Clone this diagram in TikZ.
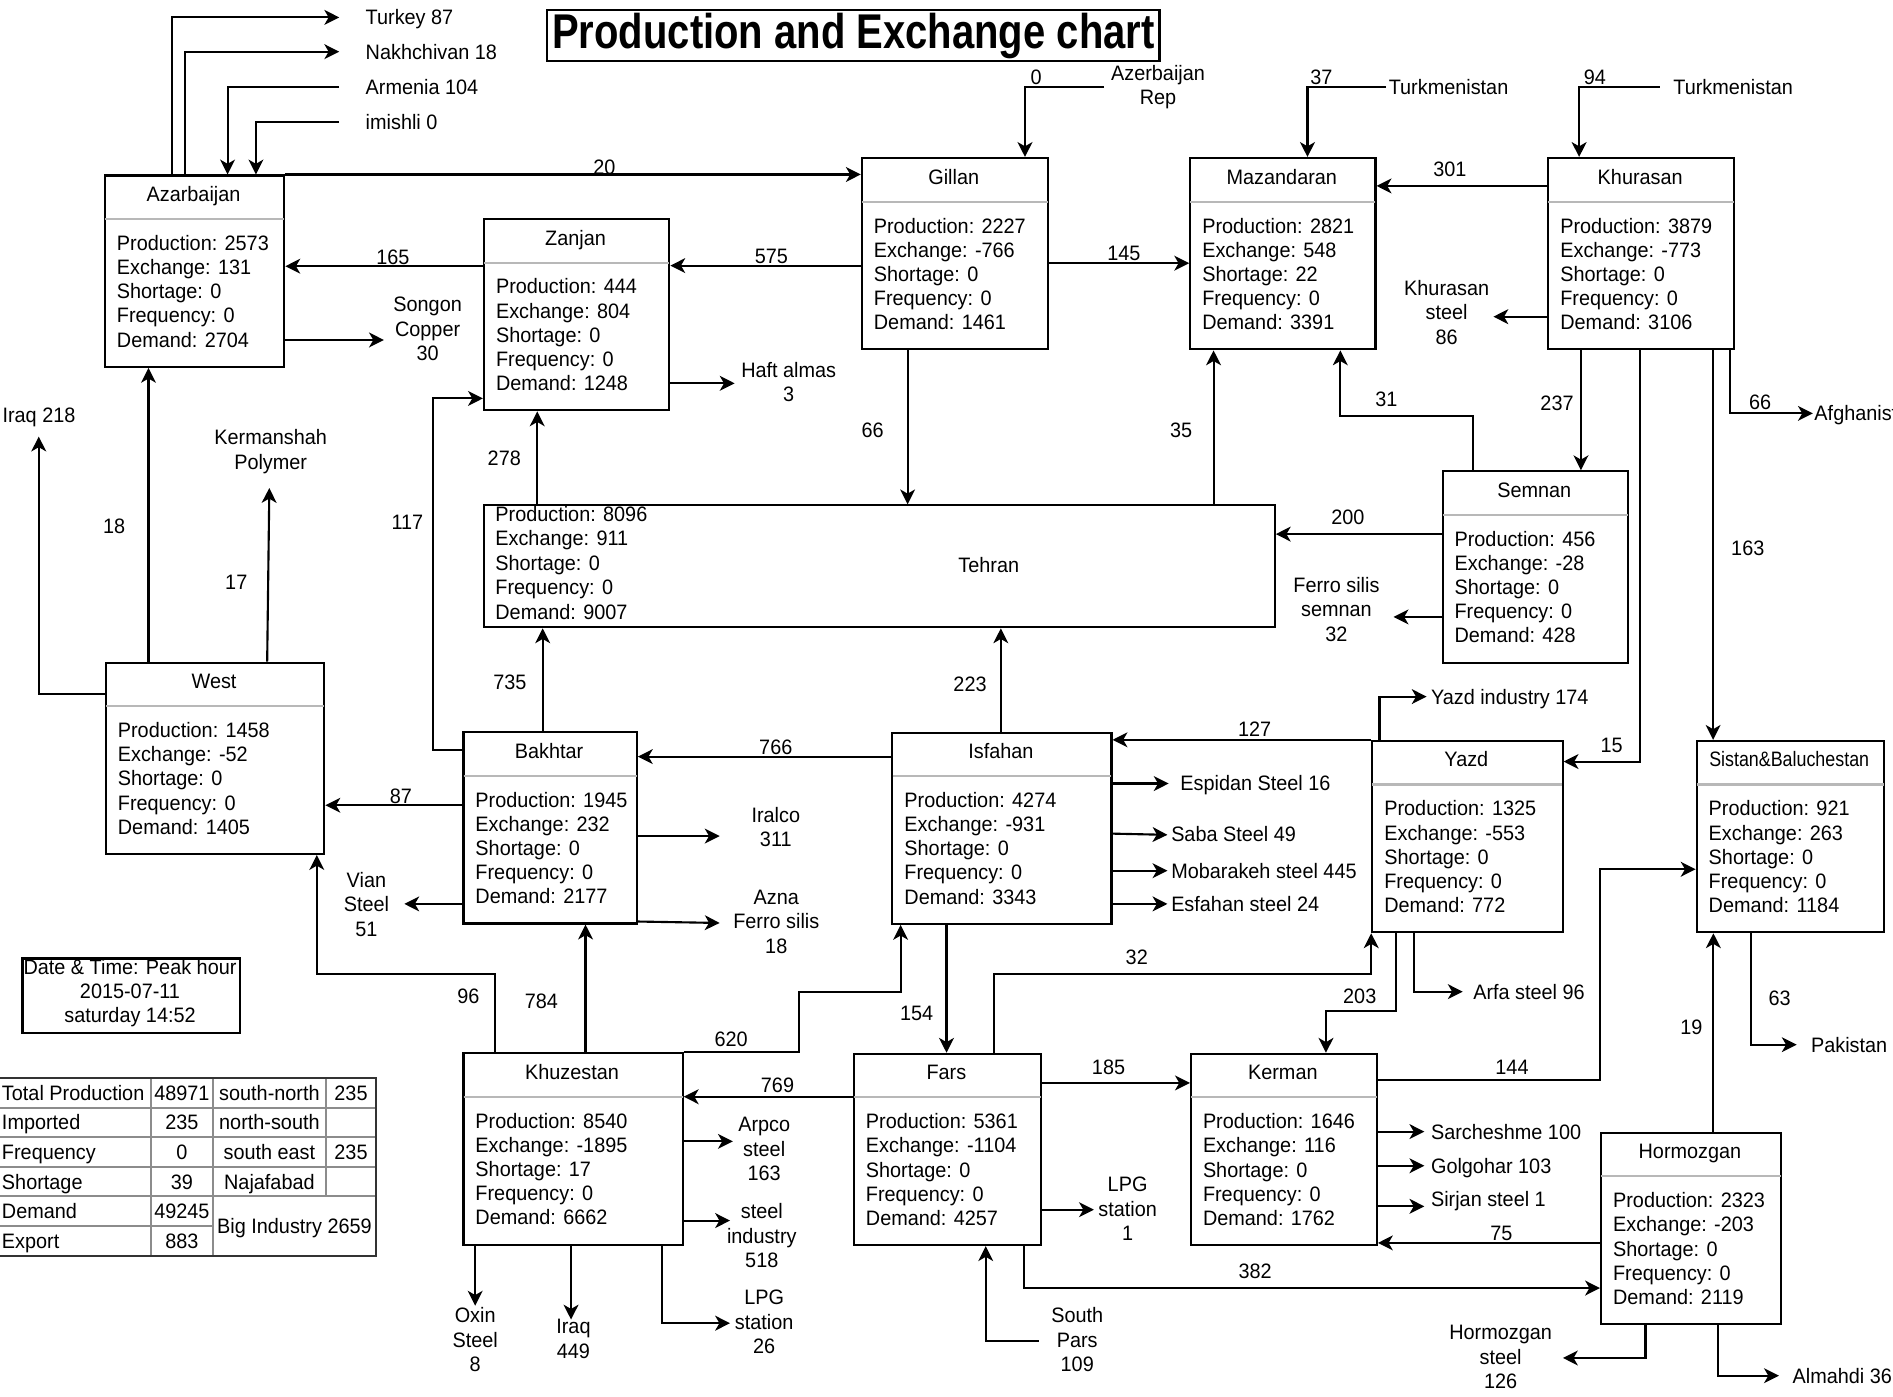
\documentclass[tikz,border=0pt]{standalone}
\usepackage{fontspec}
\usepackage{graphicx}
\setmainfont{Liberation Sans}[FakeStretch=0.95]
\newfontfamily\ttlfont{Liberation Sans}[FakeStretch=0.82]
\usetikzlibrary{arrows.meta,calc}
\newcommand\fs{\fontsize{9.85pt}{11.5pt}\selectfont}
\newcommand\regbox[9]{%
  \node[box, minimum width=#4*0.02cm] (#1) at (#2,#3) {};
  \node[ttl] (#1-t) at ($(#1.north west)+(#4/2,22.5)$) {#5};
  \draw[sepl] ($(#1.north west)+(1,37)$) -- ($(#1.north east)+(-1,37)$);
  \node[txt] (#1-p) at ($(#1.north west)+(10.5,63)$) {Production: #6};
  \node[txt] (#1-e) at ($(#1.north west)+(10.5,83)$) {Exchange: #7};
  \node[txt] (#1-s) at ($(#1.north west)+(10.5,103)$) {Shortage: #8};
  \node[txt] (#1-f) at ($(#1.north west)+(10.5,123)$) {Frequency: 0};
  \node[txt] (#1-d) at ($(#1.north west)+(10.5,143)$) {Demand: #9};
}
\begin{document}
\begin{tikzpicture}[x=0.02cm,y=-0.02cm,
  box/.style={draw=black, line width=1pt, rectangle, inner sep=0pt, anchor=north west, minimum height=3.17cm},
  sepl/.style={draw=black!28, line width=1pt},
  txt/.style={font=\fs, inner sep=0pt, anchor=base west},
  ttl/.style={font=\fs, inner sep=0pt, anchor=base},
  lab/.style={font=\fs, inner sep=0pt, text height=7pt, text depth=0pt},
  mlab/.style={font=\fs, inner sep=0pt, align=center, anchor=center},
  num/.style={font=\fs, inner sep=0pt, text height=7pt, text depth=0pt, anchor=center},
  arr/.style={line width=1pt, draw=black, -{Stealth[length=7pt,width=7pt,inset=2pt]}},
  tbo/.style={draw=black!80, line width=1pt},
  tbi/.style={draw=black!45, line width=1pt},
]
\useasboundingbox (0,0) rectangle (1568,1157);
\fill[white] (0,0) rectangle (1568,1157);

% title
\node[draw=black, line width=1pt, inner sep=0pt, anchor=north west,
  minimum width=507*0.02cm, minimum height=42*0.02cm,
  font=\ttlfont\bfseries\fontsize{23pt}{27pt}\selectfont] (title) at (452.5,7.7) {Production and Exchange chart};

% region boxes
\regbox{az}{86}{144.5}{148.6}{Azarbaijan}{2573}{131}{0}{2704}
\regbox{zan}{400}{180.5}{153.5}{Zanjan}{444}{804}{0}{1248}
\regbox{gil}{713}{130}{154}{Gillan}{2227}{-766}{0}{1461}
\regbox{maz}{985}{130}{153.5}{Mazandaran}{2821}{548}{22}{3391}
\regbox{khu}{1281.6}{130}{154}{Khurasan}{3879}{-773}{0}{3106}
\regbox{sem}{1194}{389.5}{153.7}{Semnan}{456}{-28}{0}{428}
\regbox{west}{86.8}{548}{181}{West}{1458}{-52}{0}{1405}
\regbox{bak}{383}{605.6}{143.6}{Bakhtar}{1945}{232}{0}{2177}
\regbox{isf}{738.3}{605.9}{181.5}{Isfahan}{4274}{-931}{0}{3343}
\regbox{yaz}{1135.8}{612.8}{157.6}{Yazd}{1325}{-553}{0}{772}
\regbox{sis}{1404.5}{612.8}{155}{\scalebox{0.9}[1]{Sistan\&Baluchestan}}{921}{263}{0}{1184}
\regbox{khz}{383}{871.6}{181.6}{Khuzestan}{8540}{-1895}{17}{6662}
\regbox{fars}{706.4}{872}{155}{Fars}{5361}{-1104}{0}{4257}
\regbox{ker}{985.6}{872}{154}{Kerman}{1646}{116}{0}{1762}
\regbox{hor}{1325.3}{937.4}{149}{Hormozgan}{2323}{-203}{0}{2119}

% Tehran
\node[box, minimum width=655*0.02cm, minimum height=101*0.02cm] (teh) at (400,417.7) {};
\node[txt] (teh-p) at (410,431.7) {Production: 8096};
\node[txt] (teh-e) at (410,452) {Exchange: 911};
\node[txt] (teh-s) at (410,472.3) {Shortage: 0};
\node[txt] (teh-f) at (410,492.6) {Frequency: 0};
\node[txt] (teh-d) at (410,513) {Demand: 9007};
\node[lab] (teh-t) at (819,468.2) {Tehran};

% date box
\node[draw=black, line width=1pt, inner sep=0pt, anchor=north west,
  minimum width=180*0.02cm, minimum height=62*0.02cm] (datebox) at (17.8,793) {};
\node[mlab] (datetxt) at (107.7,822.6) {Date \& Time: Peak hour\\2015-07-11\\saturday 14:52};

% summary table
\draw[tbi] (0,917.5) -- (311.5,917.5);
\draw[tbi] (0,942) -- (311.5,942);
\draw[tbi] (0,966.5) -- (311.5,966.5);
\draw[tbi] (0,991) -- (311.5,991);
\draw[tbi] (0,1015.5) -- (176.3,1015.5);
\draw[tbi] (125,893) -- (125,1040);
\draw[tbi] (176.3,893) -- (176.3,1040);
\draw[tbi] (270,893) -- (270,991);
\draw[tbo] (-0.5,893) rectangle (311.5,1040);
\node[lab, anchor=west] (c11) at (1.3,905.25) {Total Production};
\node[lab, anchor=west] (c21) at (1.3,929.75) {Imported};
\node[lab, anchor=west] (c31) at (1.3,954.25) {Frequency};
\node[lab, anchor=west] (c41) at (1.3,978.75) {Shortage};
\node[lab, anchor=west] (c51) at (1.3,1003.25) {Demand};
\node[lab, anchor=west] (c61) at (1.3,1027.75) {Export};
\node[num] (c12) at (150.65,905.25) {48971};
\node[num] (c22) at (150.65,929.75) {235};
\node[num] (c32) at (150.65,954.25) {0};
\node[num] (c42) at (150.65,978.75) {39};
\node[num] (c52) at (150.65,1003.25) {49245};
\node[num] (c62) at (150.65,1027.75) {883};
\node[num] (c13) at (223.15,905.25) {south-north};
\node[num] (c23) at (223.15,929.75) {north-south};
\node[num] (c33) at (223.15,954.25) {south east};
\node[num] (c43) at (223.15,978.75) {Najafabad};
\node[num] (c14) at (290.75,905.25) {235};
\node[num] (c34) at (290.75,954.25) {235};
\node[num] (c53) at (243.9,1015.5) {Big Industry 2659};

% ---------- labels ----------
\node[lab, anchor=west] (turkey) at (302.6,14.4) {Turkey 87};
\node[lab, anchor=west] (nakh) at (302.6,42.8) {Nakhchivan 18};
\node[lab, anchor=west] (armenia) at (302.6,72.3) {Armenia 104};
\node[lab, anchor=west] (imishli) at (302.6,101.3) {imishli 0};
\node[mlab] (songon) at (354.2,272.4) {Songon\\Copper\\30};
\node[mlab] (haft) at (653.3,316.2) {Haft almas\\3};
\node[mlab] (azrep) at (959.2,72) {Azerbaijan\\Rep};
\node[lab, anchor=west] (turk1) at (1150,72.3) {Turkmenistan};
\node[lab, anchor=west] (turk2) at (1385.7,72.3) {Turkmenistan};
\node[mlab] (khsteel) at (1198.3,258.6) {Khurasan\\steel\\86};
\node[lab, anchor=west] (afgh) at (1502.6,342.4) {Afghanistan};
\node[mlab] (ferro) at (1107,504.7) {Ferro silis\\semnan\\32};
\node[lab] (iraq1) at (32.3,343.7) {Iraq 218};
\node[mlab] (kerm) at (224.2,374.2) {Kermanshah\\Polymer};
\node[mlab] (iralco) at (642.6,684.9) {Iralco\\311};
\node[mlab] (vian) at (303.5,749) {Vian\\Steel\\51};
\node[mlab] (azna) at (643,763.3) {Azna\\Ferro silis\\18};
\node[lab, anchor=west] (espidan) at (977.4,649) {Espidan Steel 16};
\node[lab, anchor=west] (saba) at (969.8,690.6) {Saba Steel 49};
\node[lab, anchor=west] (mob) at (969.8,721.2) {Mobarakeh steel 445};
\node[lab, anchor=west] (esf) at (969.8,748.7) {Esfahan steel 24};
\node[lab, anchor=west] (yazdind) at (1185,577) {Yazd industry 174};
\node[lab, anchor=west] (arfa) at (1220,821.4) {Arfa steel 96};
\node[lab, anchor=west] (sarch) at (1185,937.3) {Sarcheshme 100};
\node[lab, anchor=west] (golg) at (1185,965.6) {Golgohar 103};
\node[lab, anchor=west] (sirjan) at (1185,993) {Sirjan steel 1};
\node[mlab] (lpg1) at (934,1001.4) {LPG\\station\\1};
\node[mlab] (spars) at (892.3,1109.8) {South\\Pars\\109};
\node[lab, anchor=west] (pak) at (1499.8,865.3) {Pakistan};
\node[mlab] (horsteel) at (1243,1124) {Hormozgan\\steel\\126};
\node[lab, anchor=west] (almahdi) at (1484.5,1139.5) {Almahdi 36};
\node[mlab] (arpco) at (633,951.7) {Arpco\\steel\\163};
\node[mlab] (steelind) at (631,1023.5) {steel\\industry\\518};
\node[mlab] (lpg2) at (633,1095) {LPG\\station\\26};
\node[mlab] (oxin) at (393.6,1109.7) {Oxin\\Steel\\8};
\node[mlab] (iraq2) at (475,1109) {Iraq\\449};

% ---------- numbers on connectors ----------
\node[num] (v20) at (500.6,138.6) {20};
\node[num] (v165) at (325.5,212.6) {165};
\node[num] (v575) at (639,212) {575};
\node[num] (v145) at (931,209.8) {145};
\node[num] (v301) at (1201,140) {301};
\node[num] (v0) at (858.2,63.5) {0};
\node[num] (v37) at (1094.6,64) {37};
\node[num] (v94) at (1321,64) {94};
\node[num] (v66a) at (1458,332.7) {66};
\node[num] (v237) at (1289.7,334) {237};
\node[num] (v31) at (1148.3,330.5) {31};
\node[num] (v163) at (1447.7,454) {163};
\node[num] (v15) at (1335,616.8) {15};
\node[num] (v200) at (1116.4,428.3) {200};
\node[num] (v66b) at (722.8,356.5) {66};
\node[num] (v35) at (978.4,356.5) {35};
\node[num] (v278) at (417.7,379.8) {278};
\node[num] (v117) at (337.4,432.3) {117};
\node[num] (v735) at (422.4,565) {735};
\node[num] (v223) at (803.5,566.9) {223};
\node[num] (v766) at (642.6,618.8) {766};
\node[num] (v87) at (332,659) {87};
\node[num] (v18) at (94.6,436) {18};
\node[num] (v17) at (195.7,482.2) {17};
\node[num] (v96) at (388,825) {96};
\node[num] (v784) at (448.5,829) {784};
\node[num] (v620) at (605.6,861) {620};
\node[num] (v769) at (644,898.5) {769};
\node[num] (v154) at (759.2,839.3) {154};
\node[num] (v127) at (1039.3,604.2) {127};
\node[num] (v32) at (941.6,792.5) {32};
\node[num] (v203) at (1126.3,825.3) {203};
\node[num] (v144) at (1252.4,883.6) {144};
\node[num] (v185) at (918.2,883.6) {185};
\node[num] (v382) at (1039.6,1053) {382};
\node[num] (v75) at (1243.6,1021) {75};
\node[num] (v19) at (1400.9,850.9) {19};
\node[num] (v63) at (1474,826.9) {63};

% ---------- free ends ----------
\coordinate (eTurkey) at (281,14.4);
\coordinate (eNakh) at (281,42.8);
\coordinate (sArm) at (281,72.3);
\coordinate (sImi) at (281,101.3);
\coordinate (eSong) at (318,281.6);
\coordinate (eHaft) at (608.5,317.5);
\coordinate (sAzr) at (914.6,72.3);
\coordinate (sT1) at (1148.2,72.3);
\coordinate (sT2) at (1374.8,72.3);
\coordinate (eKs) at (1237,262.3);
\coordinate (eAf) at (1501.6,342.4);
\coordinate (eFe) at (1154.3,511);
\coordinate (eIr) at (596.1,692.5);
\coordinate (eVi) at (334.9,748.7);
\coordinate (eAz) at (596.1,764.5);
\coordinate (eIq) at (32.1,361.6);
\coordinate (eKm) at (223.1,404.2);
\coordinate (eEsp) at (968,649);
\coordinate (eSaba) at (967,691.5);
\coordinate (eMob) at (967,721.2);
\coordinate (eEsf) at (967,748.7);
\coordinate (eYi) at (1181.7,577);
\coordinate (eArfa) at (1211.6,821.4);
\coordinate (eLpg1) at (906.1,1002);
\coordinate (sSp) at (860.6,1110.7);
\coordinate (eSar) at (1179.8,937.3);
\coordinate (eGol) at (1179.8,965.6);
\coordinate (eSir) at (1179.8,999.2);
\coordinate (ePak) at (1488.2,865.3);
\coordinate (eHs) at (1294.6,1124.8);
\coordinate (eAlm) at (1473.5,1139.5);
\coordinate (eArp) at (607,945.4);
\coordinate (eSti) at (604.7,1011);
\coordinate (eLpg2) at (604.7,1096);
\coordinate (eOx) at (393.6,1081.5);
\coordinate (eIq2) at (473,1093);

% ---------- connectors ----------
\draw[arr] (az.north -| 142.5,0) |- (eTurkey);
\draw[arr] (az.north -| 153,0) |- (eNakh);
\draw[arr] (sArm) -| (az.north -| 188.5,0);
\draw[arr] (sImi) -| (az.north -| 212,0);
\draw[arr] (az.north east) -- (az.north east -| gil.west);
\draw[arr] (zan.west |- 0,220.5) -- (az.east |- 0,220.5);
\draw[arr] (gil.west |- 0,220) -- (zan.east |- 0,220);
\draw[arr] (gil.east |- 0,218) -- (maz.west |- 0,218);
\draw[arr] (khu.west |- 0,154) -- (maz.east |- 0,154);
\draw[arr] (az.east |- 0,281.6) -- (eSong);
\draw[arr] (zan.east |- 0,317.5) -- (eHaft);
\draw[arr] (sAzr) -| (gil.north -| 849,0);
\draw[arr] (sT1) -| (maz.north -| 1083,0);
\draw[arr] (sT2) -| (khu.north -| 1308,0);
\draw[arr] (khu.west |- 0,262.3) -- (eKs);
\draw[arr] (khu.south -| 1433,0) |- (eAf);
\draw[arr] (khu.south -| 1309.5,0) -- (sem.north -| 1309.5,0);
\draw[arr] (khu.south -| 1419,0) -- (sis.north -| 1419,0);
\draw[arr] (khu.south -| 1358.7,0) |- (yaz.east |- 0,630.8);
\draw[arr] (sem.north -| 1220.2,0) -- (1220.2,344.6) -| (maz.south -| 1110.2,0);
\draw[arr] (sem.west |- 0,442.4) -- (teh.east |- 0,442.4);
\draw[arr] (sem.west |- 0,511) -- (eFe);
\draw[arr] (gil.south -| 751.8,0) -- (teh.north -| 751.8,0);
\draw[arr] (teh.north -| 1005.2,0) -- (maz.south -| 1005.2,0);
\draw[arr] (teh.north -| 445,0) -- (zan.south -| 445,0);
\draw[arr] (bak.west |- 0,621) -- (358.8,621) |- (zan.west |- 0,330);
\draw[arr] (bak.north -| 449.5,0) -- (teh.south -| 449.5,0);
\draw[arr] (isf.north -| 829,0) -- (teh.south -| 829,0);
\draw[arr] (isf.west |- 0,626.7) -- (bak.east |- 0,626.7);
\draw[arr] (bak.west |- 0,667) -- (west.east |- 0,667);
\draw[arr] (bak.east |- 0,692.5) -- (eIr);
\draw[arr] (bak.west |- 0,748.7) -- (eVi);
\draw[arr] (bak.east |- 0,763.3) -- (eAz);
\draw[arr] (west.west |- 0,574.8) -| (eIq);
\draw[arr] (west.north -| 123,0) -- (az.south -| 123,0);
\draw[arr] (west.north -| 221.3,0) -- (eKm);
\draw[arr] (khz.north -| 409.7,0) -- (409.7,807) -| (west.south -| 262.4,0);
\draw[arr] (khz.north -| 485,0) -- (bak.south -| 485,0);
\draw[arr] (khz.north east) -| (662,822) -| (isf.south -| 746,0);
\draw[arr] (fars.west |- 0,908.4) -- (khz.east |- 0,908.4);
\draw[arr] (isf.south -| 784,0) -- (fars.north -| 784,0);
\draw[arr] (isf.east |- 0,649) -- (eEsp);
\draw[arr] (isf.east |- 0,690.5) -- (eSaba);
\draw[arr] (isf.east |- 0,721.2) -- (eMob);
\draw[arr] (isf.east |- 0,748.7) -- (eEsf);
\draw[arr] (yaz.north -| 1142.6,0) |- (eYi);
\draw[arr] (yaz.north west) -- (yaz.north west -| isf.east);
\draw[arr] (fars.north -| 823,0) -- (823,807) -| (yaz.south west);
\draw[arr] (yaz.south -| 1156,0) -- (1156,837.7) -| (ker.north -| 1098.3,0);
\draw[arr] (yaz.south -| 1171,0) |- (eArfa);
\draw[arr] (ker.east |- 0,894.6) -- (1325.3,894.6) |- (sis.west |- 0,720);
\draw[arr] (fars.east |- 0,897) -- (ker.west |- 0,897);
\draw[arr] (fars.east |- 0,1002) -- (eLpg1);
\draw[arr] (sSp) -| (fars.south -| 816.5,0);
\draw[arr] (fars.south -| 848.3,0) |- (hor.west |- 0,1066.9);
\draw[arr] (hor.west |- 0,1029.5) -- (ker.east |- 0,1029.5);
\draw[arr] (ker.east |- 0,937.3) -- (eSar);
\draw[arr] (ker.east |- 0,965.6) -- (eGol);
\draw[arr] (ker.east |- 0,999.2) -- (eSir);
\draw[arr] (hor.north -| 1419.2,0) -- (sis.south -| 1419.2,0);
\draw[arr] (sis.south -| 1450,0) |- (ePak);
\draw[arr] (hor.south -| 1363,0) |- (eHs);
\draw[arr] (hor.south -| 1423,0) |- (eAlm);
\draw[arr] (khz.east |- 0,945.4) -- (eArp);
\draw[arr] (khz.east |- 0,1011) -- (eSti);
\draw[arr] (khz.south -| 548,0) |- (eLpg2);
\draw[arr] (khz.south -| 393.6,0) -- (eOx);
\draw[arr] (khz.south -| 473,0) -- (eIq2);
\end{tikzpicture}
\end{document}
